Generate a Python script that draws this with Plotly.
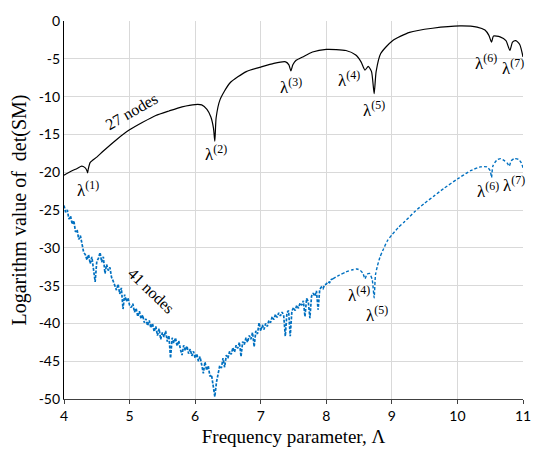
import plotly.graph_objects as go

# ---- 27-node model: log|det(SM)| versus frequency parameter ----
x27 = [4.00, 4.10, 4.20, 4.27, 4.32, 4.35, 4.36, 4.37, 4.40, 4.50, 4.60, 4.80,
       5.00, 5.20, 5.40, 5.60, 5.80, 6.00, 6.10, 6.18, 6.24, 6.28, 6.30, 6.32,
       6.38, 6.53, 6.78, 7.00, 7.20, 7.38, 7.43, 7.46, 7.49, 7.54, 7.64, 7.79,
       8.00, 8.30, 8.45, 8.53, 8.59, 8.64, 8.69, 8.73, 8.76, 8.83, 9.01, 9.27,
       9.62, 10.04, 10.30, 10.42, 10.48, 10.52, 10.55, 10.65, 10.74, 10.80,
       10.84, 10.89, 10.95, 11.00]
y27 = [-20.4, -19.9, -19.5, -19.2, -19.4, -19.8, -20.1, -19.6, -18.7, -18.0, -17.2, -15.7,
       -14.4, -13.4, -12.5, -11.9, -11.35, -11.05, -11.1, -11.7, -12.7, -14.2, -15.9, -12.8,
       -10.4, -8.2, -6.7, -6.1, -5.6, -5.4, -5.8, -6.6, -5.8, -5.2, -4.75, -4.1,
       -3.76, -3.9, -4.5, -5.4, -6.5, -6.0, -6.7, -9.6, -6.7, -4.3, -2.6, -1.5,
       -0.96, -0.65, -0.8, -1.2, -1.9, -2.8, -2.0, -2.1, -2.6, -3.9,
       -2.8, -2.6, -3.1, -4.75]

# ---- 41-node model: oscillating low-frequency part ----
x41_noisy = [4.000, 4.025, 4.050, 4.075, 4.100, 4.125, 4.150, 4.175, 4.200, 4.225,
             4.250, 4.275, 4.300, 4.325, 4.350, 4.375, 4.400, 4.425, 4.450, 4.475,
             4.500, 4.525, 4.550, 4.575, 4.600, 4.625, 4.650, 4.675, 4.700, 4.725,
             4.750, 4.775, 4.800, 4.825, 4.850, 4.875, 4.900, 4.925, 4.950, 4.975,
             5.000, 5.025, 5.050, 5.075, 5.100, 5.125, 5.150, 5.175, 5.200, 5.225,
             5.250, 5.275, 5.300, 5.325, 5.350, 5.375, 5.400, 5.425, 5.450, 5.475,
             5.500, 5.525, 5.550, 5.575, 5.600, 5.625, 5.650, 5.675, 5.700, 5.725,
             5.750, 5.775, 5.800, 5.825, 5.850, 5.875, 5.900, 5.925, 5.950, 5.975,
             6.000, 6.025, 6.050, 6.075, 6.100, 6.125, 6.150, 6.175, 6.200, 6.225,
             6.250, 6.275, 6.300, 6.325, 6.350, 6.375, 6.400, 6.425, 6.450, 6.475,
             6.500, 6.525, 6.550, 6.575, 6.600, 6.625, 6.650, 6.675, 6.700, 6.725,
             6.750, 6.775, 6.800, 6.825, 6.850, 6.875, 6.900, 6.925, 6.950, 6.975,
             7.000, 7.025, 7.050, 7.075, 7.100, 7.125, 7.150, 7.175, 7.200, 7.225,
             7.250, 7.275, 7.300, 7.325, 7.350, 7.375, 7.400, 7.425, 7.450, 7.475,
             7.500, 7.525, 7.550, 7.575, 7.600, 7.625, 7.650, 7.675, 7.700, 7.725,
             7.750, 7.775, 7.800, 7.825, 7.850, 7.875, 7.900, 7.925, 7.950, 7.975,
             8.000, 8.025, 8.050, 8.075, 8.100]
y41_noisy = [-24.4, -25.3, -25.0, -26.2, -25.8, -26.9, -26.4, -27.9, -27.6, -28.9,
             -28.4, -29.8, -30.6, -30.9, -31.6, -30.9, -32.1, -31.2, -32.6, -34.5,
             -31.8, -31.4, -30.6, -31.9, -31.2, -33.4, -32.2, -33.0, -32.6, -33.9,
             -34.4, -34.9, -35.6, -34.8, -36.1, -35.3, -38.1, -36.2, -37.1, -36.6,
             -37.6, -37.9, -37.4, -38.5, -38.0, -39.1, -38.4, -39.4, -38.9, -39.9,
             -39.4, -40.3, -39.6, -40.6, -40.0, -41.1, -40.4, -41.6, -40.7, -42.1,
             -41.2, -41.8, -41.0, -42.4, -41.6, -44.6, -41.9, -42.6, -41.9, -43.0,
             -42.3, -43.4, -44.2, -42.9, -43.6, -43.0, -44.0, -43.4, -44.3, -43.7,
             -44.6, -44.0, -45.0, -44.4, -45.6, -46.6, -45.1, -46.2, -45.6, -47.0,
             -46.8, -48.4, -49.7, -47.8, -46.9, -45.6, -45.9, -44.6, -45.8, -44.2,
             -44.6, -43.7, -44.1, -43.2, -43.8, -42.9, -43.3, -42.5, -44.4, -42.4,
             -42.8, -41.9, -42.5, -41.6, -42.1, -41.2, -43.1, -41.0, -41.4, -39.9,
             -41.0, -40.2, -40.8, -40.0, -40.4, -39.6, -39.9, -39.1, -39.5, -38.8,
             -39.2, -38.6, -39.0, -38.5, -38.9, -41.7, -38.6, -38.3, -41.7, -38.4,
             -37.9, -38.3, -37.6, -38.0, -37.3, -37.6, -37.0, -39.1, -36.7, -37.1,
             -39.3, -36.4, -36.0, -36.4, -35.7, -38.2, -35.5, -35.2, -35.4, -34.9,
             -34.8, -34.5, -34.6, -34.2, -34.1]

# ---- 41-node model: smooth high-frequency part ----
x41_smooth = [8.10, 8.20, 8.30, 8.40, 8.47, 8.52, 8.56, 8.59, 8.62, 8.66, 8.70,
              8.73, 8.75, 8.78, 8.82, 8.86, 8.93, 9.00, 9.10, 9.20, 9.35, 9.50,
              9.65, 9.80, 10.00, 10.20, 10.35, 10.45, 10.50, 10.52, 10.54, 10.60,
              10.66, 10.72, 10.76, 10.79, 10.82, 10.87, 10.93, 10.97, 11.00]
y41_smooth = [-34.1, -33.6, -33.2, -32.9, -32.8, -33.0, -33.4, -34.1, -33.5, -33.4, -34.2,
              -36.6, -33.6, -32.4, -31.2, -30.4, -29.1, -28.3, -27.3, -26.5, -25.2, -24.1,
              -23.1, -22.1, -20.9, -19.8, -19.3, -19.3, -19.8, -20.7, -19.2, -18.4,
              -18.2, -18.5, -18.8, -19.2, -18.5, -18.2, -18.3, -18.7, -19.4]

# ---- curve labels: (x, y, text, angle) ----
curve_labels = [(5.03, -12.0, "27 nodes", -30), (5.33, -35.6, "41 nodes", 44)]

# ---- eigenvalue labels: (x, y, index) ----
lambda_labels = [(4.37, -22.2, 1), (6.32, -17.5, 2), (7.46, -8.6, 3),
                 (8.35, -7.7, 4), (8.72, -11.6, 5), (10.43, -5.4, 6),
                 (10.85, -6.05, 7), (8.50, -36.1, 4), (8.78, -38.8, 5),
                 (10.46, -22.3, 6), (10.86, -21.6, 7)]

x_ticks = [4, 5, 6, 7, 8, 9, 10, 11]
y_ticks = [0, -5, -10, -15, -20, -25, -30, -35, -40, -45, -50]

BLUE = "#0070C0"
SERIF = "Liberation Serif"

fig = go.Figure()
fig.add_trace(go.Scatter(x=x41_noisy, y=y41_noisy, mode="lines",
                         line=dict(color=BLUE, width=1.7, dash="3px,1.5px")))
fig.add_trace(go.Scatter(x=x41_smooth, y=y41_smooth, mode="lines",
                         line=dict(color=BLUE, width=1.4, dash="3px,2px",
                                   shape="spline", smoothing=0.6)))
fig.add_trace(go.Scatter(x=x27, y=y27, mode="lines",
                         line=dict(color="black", width=1.2,
                                   shape="spline", smoothing=0.6)))

for lx, ly, txt, ang in curve_labels:
    fig.add_annotation(x=lx, y=ly, text=txt, showarrow=False, textangle=ang,
                       font=dict(family=SERIF, size=16, color="black"))
for lx, ly, k in lambda_labels:
    fig.add_annotation(x=lx, y=ly, text=f"λ<sup>({k})</sup>", showarrow=False,
                       font=dict(family=SERIF, size=17, color="black"))

fig.update_layout(
    width=543, height=456,
    margin=dict(l=64, r=19, t=13, b=57),
    paper_bgcolor="white", plot_bgcolor="white",
    showlegend=False,
    font=dict(family="Lato, Liberation Sans, sans-serif", size=14, color="black"),
)
fig.update_xaxes(
    range=[4, 11], tickvals=x_ticks, ticktext=[str(v) for v in x_ticks],
    showgrid=True, gridcolor="#d9d9d9", gridwidth=1,
    showline=True, linecolor="#404040", linewidth=1.2,
    ticks="outside", ticklen=4, tickcolor="#404040",
    zeroline=False,
    title=dict(text="Frequency parameter, Λ",
               font=dict(family=SERIF, size=19, color="black"), standoff=6),
)
fig.update_yaxes(
    range=[-50, 0], tickvals=y_ticks, ticktext=[str(v) for v in y_ticks],
    showgrid=True, gridcolor="#d9d9d9", gridwidth=1,
    showline=True, linecolor="black", linewidth=1.2,
    ticks="", zeroline=False,
    title=dict(text="Logarithm value of  det(SM)",
               font=dict(family=SERIF, size=20, color="black"), standoff=6),
)

fig.write_html("out.html")
